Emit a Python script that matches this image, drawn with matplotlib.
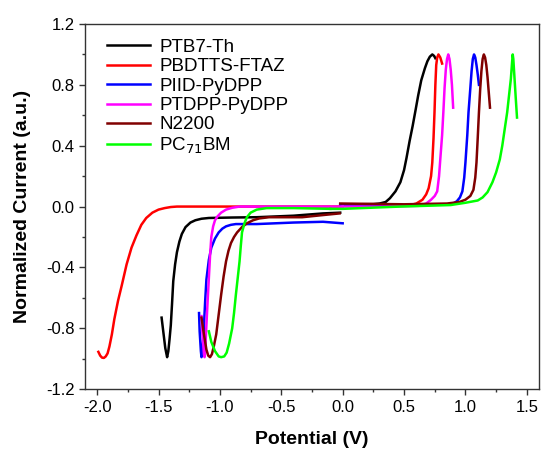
import matplotlib
matplotlib.use("Agg")
import matplotlib.pyplot as plt
from matplotlib.ticker import MultipleLocator

plt.rcParams['font.family'] = ['Liberation Sans', 'DejaVu Sans']

names = ["PTB7-Th", "PBDTTS-FTAZ", "PIID-PyDPP", "PTDPP-PyDPP", "N2200", "PC$_{71}$BM"]
colors = ["#000000", "#ff0000", "#0000ff", "#ff00ff", "#800000", "#00ff00"]

# Reduction sweeps (negative potentials)
ptb7_red_x = [-1.475, -1.46, -1.445, -1.43, -1.42, -1.41, -1.40, -1.39, -1.38, -1.365, -1.35, -1.33, -1.31, -1.28, -1.24,
              -1.20, -1.15, -1.09, -0.90, -0.70, -0.40, -0.16, -0.02]
ptb7_red_y = [-0.73, -0.83, -0.93, -0.99, -0.95, -0.87, -0.78, -0.64, -0.49, -0.38, -0.30, -0.23, -0.18, -0.135, -0.105,
              -0.09, -0.08, -0.075, -0.072, -0.07, -0.06, -0.045, -0.04]
pbd_red_x = [-1.99, -1.975, -1.96, -1.945, -1.93, -1.915, -1.90, -1.88, -1.86, -1.83, -1.80, -1.76, -1.72, -1.68, -1.64,
             -1.60, -1.55, -1.50, -1.45, -1.40, -1.35, -1.0, -0.5, 0.0]
pbd_red_y = [-0.955, -0.98, -0.993, -0.995, -0.985, -0.965, -0.92, -0.84, -0.74, -0.62, -0.52, -0.38, -0.27, -0.19, -0.12,
             -0.075, -0.04, -0.02, -0.01, -0.003, 0.0, 0.0, 0.0, 0.0]
piid_red_x = [-1.17, -1.165, -1.155, -1.15, -1.14, -1.13, -1.12, -1.11, -1.09, -1.07, -1.04, -1.01, -0.98, -0.95, -0.91,
              -0.87, -0.70, -0.40, -0.16, 0.0]
piid_red_y = [-0.70, -0.82, -0.95, -0.99, -0.93, -0.78, -0.62, -0.48, -0.35, -0.27, -0.21, -0.17, -0.145, -0.13, -0.12,
              -0.115, -0.115, -0.105, -0.10, -0.11]
ptdpp_red_x = [-1.15, -1.14, -1.13, -1.125, -1.12, -1.11, -1.10, -1.09, -1.08, -1.07, -1.055, -1.04, -1.02, -0.99, -0.95,
               -0.90, -0.84, -0.5, 0.0]
ptdpp_red_y = [-0.72, -0.86, -0.97, -0.99, -0.95, -0.78, -0.62, -0.47, -0.32, -0.20, -0.13, -0.09, -0.065, -0.04, -0.02,
               -0.008, 0.0, 0.0, 0.0]
n2200_red_x = [-1.15, -1.13, -1.11, -1.095, -1.08, -1.065, -1.05, -1.03, -1.01, -0.99, -0.97, -0.95, -0.93, -0.91, -0.885,
               -0.86, -0.82, -0.78, -0.73, -0.68, -0.60, -0.33, -0.15, -0.025]
n2200_red_y = [-0.73, -0.84, -0.94, -0.98, -0.99, -0.97, -0.92, -0.84, -0.71, -0.58, -0.46, -0.36, -0.29, -0.24, -0.20,
               -0.17, -0.135, -0.11, -0.09, -0.078, -0.07, -0.07, -0.055, -0.045]
pcbm_red_x = [-1.09, -1.07, -1.04, -1.01, -0.99, -0.965, -0.945, -0.925, -0.90, -0.885, -0.87, -0.855, -0.84, -0.83, -0.82,
              -0.80, -0.78, -0.75, -0.70, -0.62, -0.4, -0.1]
pcbm_red_y = [-0.82, -0.89, -0.95, -0.985, -0.99, -0.985, -0.96, -0.90, -0.80, -0.70, -0.58, -0.47, -0.36, -0.26, -0.17,
              -0.11, -0.07, -0.04, -0.02, -0.01, -0.01, -0.015]

# Oxidation sweeps (positive potentials)
ptb7_ox_x = [-0.02, 0.10, 0.25, 0.30, 0.35, 0.385, 0.43, 0.47, 0.50, 0.52, 0.545, 0.57, 0.595, 0.615, 0.64, 0.67, 0.69,
             0.71, 0.73, 0.745, 0.755]
ptb7_ox_y = [0.015, 0.015, 0.016, 0.02, 0.03, 0.055, 0.10, 0.16, 0.24, 0.32, 0.43, 0.53, 0.64, 0.73, 0.83, 0.91, 0.955,
             0.985, 1.0, 0.99, 0.975]
pbd_ox_x = [0.0, 0.3, 0.55, 0.60, 0.65, 0.68, 0.70, 0.72, 0.73, 0.74, 0.748, 0.755, 0.762, 0.77, 0.78, 0.795, 0.81]
pbd_ox_y = [0.005, 0.005, 0.01, 0.02, 0.045, 0.08, 0.12, 0.20, 0.29, 0.45, 0.62, 0.80, 0.93, 0.98, 1.0, 0.98, 0.94]
piid_ox_x = [-0.02, 0.5, 0.85, 0.90, 0.93, 0.955, 0.975, 0.99, 1.0, 1.015, 1.025, 1.04, 1.05, 1.06, 1.07, 1.08, 1.09,
             1.10, 1.11]
piid_ox_y = [0.01, 0.01, 0.015, 0.02, 0.035, 0.06, 0.10, 0.19, 0.29, 0.47, 0.62, 0.78, 0.89, 0.97, 1.0, 0.98, 0.93,
             0.87, 0.80]
ptdpp_ox_x = [0.0, 0.3, 0.62, 0.68, 0.72, 0.75, 0.77, 0.785, 0.795, 0.81, 0.82, 0.83, 0.84, 0.85, 0.86, 0.87, 0.88,
              0.89, 0.90]
ptdpp_ox_y = [0.0, 0.0, 0.005, 0.02, 0.045, 0.07, 0.10, 0.20, 0.31, 0.47, 0.62, 0.78, 0.90, 0.97, 1.0, 0.97, 0.90,
              0.80, 0.65]
n2200_ox_x = [-0.02, 0.5, 0.85, 0.95, 1.0, 1.04, 1.065, 1.08, 1.09, 1.10, 1.11, 1.12, 1.13, 1.14, 1.15, 1.16, 1.17,
              1.18, 1.19, 1.20]
n2200_ox_y = [0.02, 0.015, 0.02, 0.03, 0.045, 0.07, 0.11, 0.19, 0.29, 0.45, 0.62, 0.77, 0.89, 0.97, 1.0, 0.98, 0.93,
              0.85, 0.75, 0.65]
pcbm_ox_x = [-0.1, 0.0, 0.47, 0.88, 1.0, 1.10, 1.14, 1.18, 1.22, 1.25, 1.28, 1.30, 1.32, 1.34, 1.355, 1.37, 1.38,
             1.385, 1.39, 1.40, 1.41, 1.42]
pcbm_ox_y = [-0.015, -0.015, 0.0, 0.01, 0.025, 0.04, 0.06, 0.095, 0.16, 0.225, 0.31, 0.40, 0.51, 0.62, 0.73, 0.84, 0.95,
             1.0, 0.97, 0.84, 0.71, 0.585]

red_sweeps = [(ptb7_red_x, ptb7_red_y), (pbd_red_x, pbd_red_y), (piid_red_x, piid_red_y),
              (ptdpp_red_x, ptdpp_red_y), (n2200_red_x, n2200_red_y), (pcbm_red_x, pcbm_red_y)]
ox_sweeps = [(ptb7_ox_x, ptb7_ox_y), (pbd_ox_x, pbd_ox_y), (piid_ox_x, piid_ox_y),
             (ptdpp_ox_x, ptdpp_ox_y), (n2200_ox_x, n2200_ox_y), (pcbm_ox_x, pcbm_ox_y)]

x_ticks = [-2.0, -1.5, -1.0, -0.5, 0.0, 0.5, 1.0, 1.5]
y_ticks = [-1.2, -0.8, -0.4, 0.0, 0.4, 0.8, 1.2]

fig = plt.figure(figsize=(5.44, 4.53), dpi=100)
ax = fig.add_axes([0.156, 0.141, 0.835, 0.806])

lw = 1.8
for name, c, (rx, ry), (ox, oy) in zip(names, colors, red_sweeps, ox_sweeps):
    ax.plot(rx, ry, color=c, lw=lw, label=name, solid_joinstyle='round')
    ax.plot(ox, oy, color=c, lw=lw, solid_joinstyle='round')

ax.set_xlim(-2.1, 1.6)
ax.set_ylim(-1.2, 1.2)
ax.set_xticks(x_ticks)
ax.set_xticklabels([f"{v:.1f}" for v in x_ticks])
ax.set_yticks(y_ticks)
ax.set_yticklabels([f"{v:.1f}" for v in y_ticks])
ax.xaxis.set_minor_locator(MultipleLocator(0.25))
ax.yaxis.set_minor_locator(MultipleLocator(0.2))
ax.tick_params(which='major', direction='out', length=4, width=1, labelsize=12, color='#333333')
ax.tick_params(which='minor', direction='out', length=2.5, width=1, color='#333333')
for s in ax.spines.values():
    s.set_color('#333333')
    s.set_linewidth(1.0)

ax.set_xlabel("Potential (V)", fontsize=14, fontweight='bold', labelpad=12)
ax.set_ylabel("Normalized Current (a.u.)", fontsize=14, fontweight='bold', labelpad=11)

ax.legend(loc='upper left', bbox_to_anchor=(0.027, 0.985), frameon=False, fontsize=13.5,
          handlelength=2.3, handletextpad=0.5, labelspacing=0.12, borderaxespad=0.1)

fig.savefig("out.png", dpi=100)
